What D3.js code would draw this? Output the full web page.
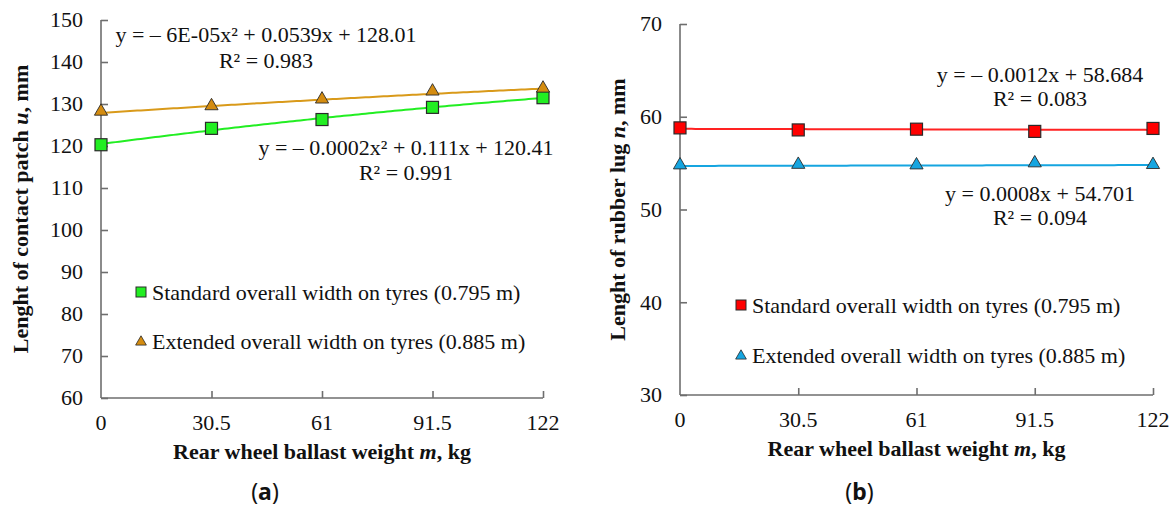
<!DOCTYPE html>
<html>
<head>
<meta charset="utf-8">
<script src="https://cdn.jsdelivr.net/npm/d3@7"></script>
<style>
  html, body { margin: 0; padding: 0; background: #fff; }
  svg { display: block; font-family: "Liberation Serif", "Times New Roman", serif; }
</style>
</head>
<body>
<svg id="chart" width="1174" height="510"></svg>
<script>
// ---------- data ----------
const weights = [0, 30.5, 61, 91.5, 122];
const xTickLabels = ["0", "30.5", "61", "91.5", "122"];

// (a) length of contact patch u, mm
const contactStandard = [120.3, 124.2, 126.3, 129.2, 131.5];
const contactExtended = [128.0, 129.3, 130.9, 132.8, 133.5];
const contactTicks = [60, 70, 80, 90, 100, 110, 120, 130, 140, 150];

// (b) length of rubber lug n, mm
const lugStandard = [58.8, 58.58, 58.66, 58.42, 58.74];
const lugExtended = [54.68, 54.74, 54.68, 54.9, 54.72];
const lugTicks = [30, 40, 50, 60, 70];

const legendLabels = ["Standard overall width on tyres (0.795 m)", "Extended overall width on tyres (0.885 m)"];
const eqA = ["y = – 6E-05x² + 0.0539x + 128.01", "R² = 0.983", "y = – 0.0002x² + 0.111x + 120.41", "R² = 0.991"];
const eqB = ["y = – 0.0012x + 58.684", "R² = 0.083", "y = 0.0008x + 54.701", "R² = 0.094"];

// ---------- helpers ----------
function polyfit(xs, ys, deg) {
  const n = deg + 1;
  const A = Array.from({length: n}, () => new Array(n + 1).fill(0));
  xs.forEach((x, k) => {
    for (let i = 0; i < n; i++) {
      for (let j = 0; j < n; j++) A[i][j] += Math.pow(x, i + j);
      A[i][n] += ys[k] * Math.pow(x, i);
    }
  });
  for (let i = 0; i < n; i++) {
    let p = i;
    for (let r = i + 1; r < n; r++) if (Math.abs(A[r][i]) > Math.abs(A[p][i])) p = r;
    [A[i], A[p]] = [A[p], A[i]];
    for (let r = 0; r < n; r++) {
      if (r === i) continue;
      const f = A[r][i] / A[i][i];
      for (let c = i; c <= n; c++) A[r][c] -= f * A[i][c];
    }
  }
  const coef = A.map((row, i) => row[n] / row[i]);
  return x => coef.reduce((s, c, i) => s + c * Math.pow(x, i), 0);
}

const svg = d3.select("#chart");
const FONT = 22;
const axisColor = "#6e6e6e";

function panel(cfg) {
  const x = d3.scaleLinear().domain([0, 122]).range([cfg.x0, cfg.x1]);
  const y = d3.scaleLinear().domain(cfg.yDomain).range([cfg.yBottom, cfg.yTop]);
  const g = svg.append("g");

  // y axis (ticks inward)
  const yAxis = g.append("g").attr("transform", `translate(${cfg.x0},0)`)
    .call(d3.axisRight(y).tickValues(cfg.yTicks).tickSize(7).tickFormat(""));
  yAxis.select(".domain").attr("stroke", axisColor).attr("stroke-width", 1.6)
    .attr("d", `M0,${cfg.yTop}V${cfg.yBottom}`);
  yAxis.selectAll(".tick line").attr("stroke", axisColor).attr("stroke-width", 1.6);
  g.selectAll(".ylab").data(cfg.yTicks).enter().append("text")
    .attr("x", cfg.x0 - 18).attr("y", d => y(d)).attr("dy", "0.33em")
    .attr("text-anchor", "end").attr("font-size", FONT).attr("fill", "#111").text(d => d);

  // x axis (ticks inward)
  const xAxis = g.append("g").attr("transform", `translate(0,${cfg.yBottom})`)
    .call(d3.axisTop(x).tickValues(weights.slice(1)).tickSize(7).tickFormat(""));
  xAxis.select(".domain").attr("stroke", axisColor).attr("stroke-width", 1.6)
    .attr("d", `M${cfg.x0},0H${cfg.x1}`);
  xAxis.selectAll(".tick line").attr("stroke", axisColor).attr("stroke-width", 1.6);
  g.selectAll(".xlab").data(weights).enter().append("text")
    .attr("x", d => x(d)).attr("y", cfg.yBottom + 25).attr("dy", "0.33em")
    .attr("text-anchor", "middle").attr("font-size", FONT).attr("fill", "#111")
    .text((d, i) => xTickLabels[i]);

  // axis titles
  const xt = g.append("text").attr("x", (cfg.x0 + cfg.x1) / 2).attr("y", cfg.xTitleY)
    .attr("text-anchor", "middle").attr("font-size", FONT).attr("font-weight", "bold").attr("fill", "#111");
  xt.append("tspan").text("Rear wheel ballast weight ");
  xt.append("tspan").attr("font-style", "italic").text("m");
  xt.append("tspan").text(", kg");

  const cy = (cfg.yTop + cfg.yBottom) / 2;
  const yt = g.append("text").attr("transform", `translate(${cfg.yTitleX},${cy}) rotate(-90)`)
    .attr("text-anchor", "middle").attr("font-size", FONT).attr("font-weight", "bold").attr("fill", "#111");
  yt.append("tspan").text(cfg.yTitle[0]);
  yt.append("tspan").attr("font-style", "italic").text(cfg.yTitle[1]);
  yt.append("tspan").text(cfg.yTitle[2]);

  // trendlines
  const samples = d3.range(0, 122.01, 1);
  cfg.series.forEach(s => {
    const f = polyfit(weights, s.values, cfg.deg);
    g.append("path").datum(samples)
      .attr("d", d3.line().x(d => x(d)).y(d => y(f(d))))
      .attr("fill", "none").attr("stroke", s.line).attr("stroke-width", 2);
  });

  // markers
  const sq = 12, tri = 75;
  cfg.series.forEach(s => {
    if (s.shape === "square") {
      g.selectAll(null).data(weights).enter().append("rect")
        .attr("x", (d) => x(d) - sq / 2).attr("y", (d, i) => y(s.values[i]) - sq / 2)
        .attr("width", sq).attr("height", sq)
        .attr("fill", s.fill).attr("stroke", "#2a2a2a").attr("stroke-width", 1.2);
    } else {
      g.selectAll(null).data(weights).enter().append("path")
        .attr("transform", (d, i) => `translate(${x(d)},${y(s.values[i]) - 1})`)
        .attr("d", d3.symbol(d3.symbolTriangle, tri)())
        .attr("fill", s.fill).attr("stroke", "#2a2a2a").attr("stroke-width", 0.9);
    }
  });

  // equations
  cfg.eqs.forEach(e => {
    g.append("text").attr("x", e.x).attr("y", e.y).attr("dy", "0.35em")
      .attr("text-anchor", e.anchor).attr("font-size", FONT).attr("fill", "#111").text(e.t);
  });

  // legend
  cfg.series.forEach((s, i) => {
    const ly = cfg.legendY[i];
    if (s.shape === "square") {
      g.append("rect").attr("x", cfg.legendX - 5).attr("y", ly - 5).attr("width", 10).attr("height", 10)
        .attr("fill", s.fill).attr("stroke", "#2a2a2a").attr("stroke-width", 1);
    } else {
      g.append("path").attr("transform", `translate(${cfg.legendX},${ly + 1})`)
        .attr("d", d3.symbol(d3.symbolTriangle, 50)())
        .attr("fill", s.fill).attr("stroke", "#2a2a2a").attr("stroke-width", 0.8);
    }
    g.append("text").attr("x", cfg.legendX + 11).attr("y", ly).attr("dy", "0.35em")
      .attr("font-size", FONT).attr("fill", "#111").text(legendLabels[i]);
  });

  // caption
  const cap = g.append("text").attr("x", (cfg.x0 + cfg.x1) / 2 - 57).attr("y", 492).attr("dy", "0.35em")
    .attr("text-anchor", "middle").attr("font-size", 23).attr("fill", "#111")
    .style("font-family", "'Noto Sans', 'DejaVu Sans', sans-serif");
  cap.append("tspan").text("(");
  cap.append("tspan").attr("font-weight", "bold").text(cfg.caption);
  cap.append("tspan").text(")");
}

panel({
  x0: 101, x1: 543, yTop: 20, yBottom: 398,
  yDomain: [60, 150], yTicks: contactTicks, deg: 2,
  xTitleY: 459, yTitleX: 28,
  yTitle: ["Lenght of contact patch ", "u", ", mm"],
  series: [
    {values: contactStandard, shape: "square", fill: "#22ee22", line: "#22ee22"},
    {values: contactExtended, shape: "triangle", fill: "#d48c10", line: "#d99a1a"}
  ],
  eqs: [
    {t: eqA[0], x: 266, y: 34, anchor: "middle"},
    {t: eqA[1], x: 266, y: 60, anchor: "middle"},
    {t: eqA[2], x: 406, y: 147, anchor: "middle"},
    {t: eqA[3], x: 406, y: 172, anchor: "middle"}
  ],
  legendX: 141, legendY: [292, 341],
  caption: "a"
});

panel({
  x0: 680, x1: 1153, yTop: 24, yBottom: 395,
  yDomain: [30, 70], yTicks: lugTicks, deg: 1,
  xTitleY: 456, yTitleX: 625,
  yTitle: ["Lenght of rubber lug ", "n", ", mm"],
  series: [
    {values: lugStandard, shape: "square", fill: "#ff0000", line: "#ff2222"},
    {values: lugExtended, shape: "triangle", fill: "#15a5e0", line: "#15a5e0"}
  ],
  eqs: [
    {t: eqB[0], x: 1040, y: 74, anchor: "middle"},
    {t: eqB[1], x: 1040, y: 98, anchor: "middle"},
    {t: eqB[2], x: 1040, y: 193, anchor: "middle"},
    {t: eqB[3], x: 1040, y: 217, anchor: "middle"}
  ],
  legendX: 741, legendY: [305, 355],
  caption: "b"
});
</script>
</body>
</html>
